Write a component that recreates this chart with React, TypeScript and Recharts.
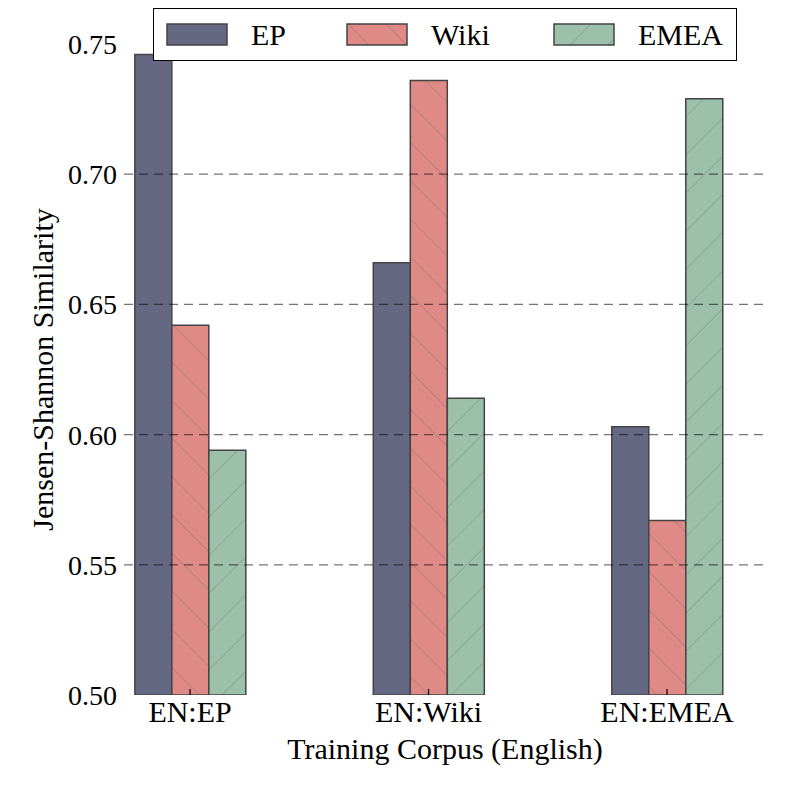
import { BarChart, Bar, XAxis, YAxis, ReferenceLine, ReferenceArea } from 'recharts';

const corpora = ['EN:EP', 'EN:Wiki', 'EN:EMEA'];
const ep = [0.746, 0.666, 0.603];
const wiki = [0.642, 0.736, 0.567];
const emea = [0.594, 0.614, 0.729];
const yTicks = [0.5, 0.55, 0.6, 0.65, 0.7, 0.75];

const series = [
  { key: 'EP', color: '#646882', fill: '#646882' },
  { key: 'Wiki', color: '#e08a87', fill: 'url(#hatchWiki)' },
  { key: 'EMEA', color: '#9dc0ab', fill: 'url(#hatchEmea)' },
];

const data = corpora.map((name, i) => ({
  x: i,
  name,
  EP: ep[i],
  Wiki: wiki[i],
  EMEA: emea[i],
}));

const FONT = '"Liberation Serif", "DejaVu Serif", serif';
const legendLeft = [12, 192, 399];

const Patterns = () => (
  <defs>
    <pattern id='hatchWiki' width='27' height='27' patternUnits='userSpaceOnUse' patternTransform='rotate(-45)'>
      <rect width='27' height='27' fill='#e08a87' />
      <line x1='0' y1='0' x2='0' y2='27' stroke='#857070' strokeWidth='0.9' />
    </pattern>
    <pattern id='hatchEmea' width='27' height='27' patternUnits='userSpaceOnUse' patternTransform='rotate(45)'>
      <rect width='27' height='27' fill='#9dc0ab' />
      <line x1='0' y1='0' x2='0' y2='27' stroke='#758a7b' strokeWidth='0.9' />
    </pattern>
  </defs>
);

const XTick = (props: any) => {
  const { x, y, payload } = props;
  return (
    <g>
      <line x1={x} y1={y} x2={x} y2={y - 6} stroke='#000' strokeWidth={1.2} />
      <text x={x} y={y + 27} textAnchor='middle' fontSize={30} fontFamily={FONT} fill='#000'>
        {corpora[payload.value]}
      </text>
    </g>
  );
};

const YLabel = (props: any) => {
  const { y, height } = props.viewBox;
  const cy = y + height / 2;
  return (
    <text
      x={53}
      y={cy}
      transform={`rotate(-90, 53, ${cy})`}
      textAnchor='middle'
      fontSize={30}
      fontFamily={FONT}
      fill='#000'
    >
      Jensen-Shannon Similarity
    </text>
  );
};

const LegendBox = () => (
  <div
    style={{
      position: 'absolute',
      left: 153,
      top: 8,
      width: 582,
      height: 51,
      background: '#fff',
      border: '1.5px solid #000',
      fontFamily: FONT,
      fontSize: 30,
    }}
  >
    {series.map((s, i) => (
      <div
        key={s.key}
        style={{ position: 'absolute', left: legendLeft[i], top: 0, height: 51, display: 'flex', alignItems: 'center' }}
      >
        <svg width={62} height={23}>
          <Patterns />
          <rect x={1} y={1} width={60} height={21} fill={s.fill} stroke='#444' strokeWidth={1.5} />
        </svg>
        <span style={{ marginLeft: 23, lineHeight: 1 }}>{s.key}</span>
      </div>
    ))}
  </div>
);

export default function App() {
  return (
    <div style={{ position: 'absolute', left: 0, top: 0, width: 797, height: 797, background: '#fff' }}>
      <BarChart
        width={797}
        height={797}
        data={data}
        barSize={37}
        barGap={0}
        margin={{ top: 44, right: 31, bottom: 0, left: 0 }}
      >
        <Patterns />
        <XAxis
          dataKey='x'
          type='number'
          domain={[-0.277, 2.415]}
          ticks={[0, 1, 2]}
          allowDataOverflow
          height={102}
          axisLine={false}
          tickLine={false}
          tickSize={0}
          tickMargin={0}
          tick={<XTick />}
          label={{
            value: 'Training Corpus (English)',
            position: 'insideTop',
            offset: 43,
            fontSize: 30,
            fontFamily: FONT,
            fill: '#000',
          }}
        />
        <YAxis
          domain={[0.5, 0.75]}
          ticks={yTicks}
          allowDataOverflow
          width={124}
          axisLine={false}
          tickLine={false}
          tickSize={0}
          tickMargin={7}
          tickFormatter={(v: number) => v.toFixed(2)}
          tick={{ fontSize: 28, fontFamily: FONT, fill: '#000' }}
          label={<YLabel />}
        />
        {series.map((s) => (
          <Bar
            key={s.key}
            dataKey={s.key}
            fill={s.fill}
            stroke='#444'
            strokeWidth={1.5}
            isAnimationActive={false}
          />
        ))}
        {yTicks.slice(1, -1).map((v) => (
          <ReferenceLine
            key={v}
            y={v}
            stroke='#000'
            strokeOpacity={0.55}
            strokeWidth={1.2}
            strokeDasharray='9 6'
          />
        ))}
        <ReferenceArea fill='none' stroke='#000' strokeWidth={1.5} fillOpacity={0} />
      </BarChart>
      <LegendBox />
    </div>
  );
}
